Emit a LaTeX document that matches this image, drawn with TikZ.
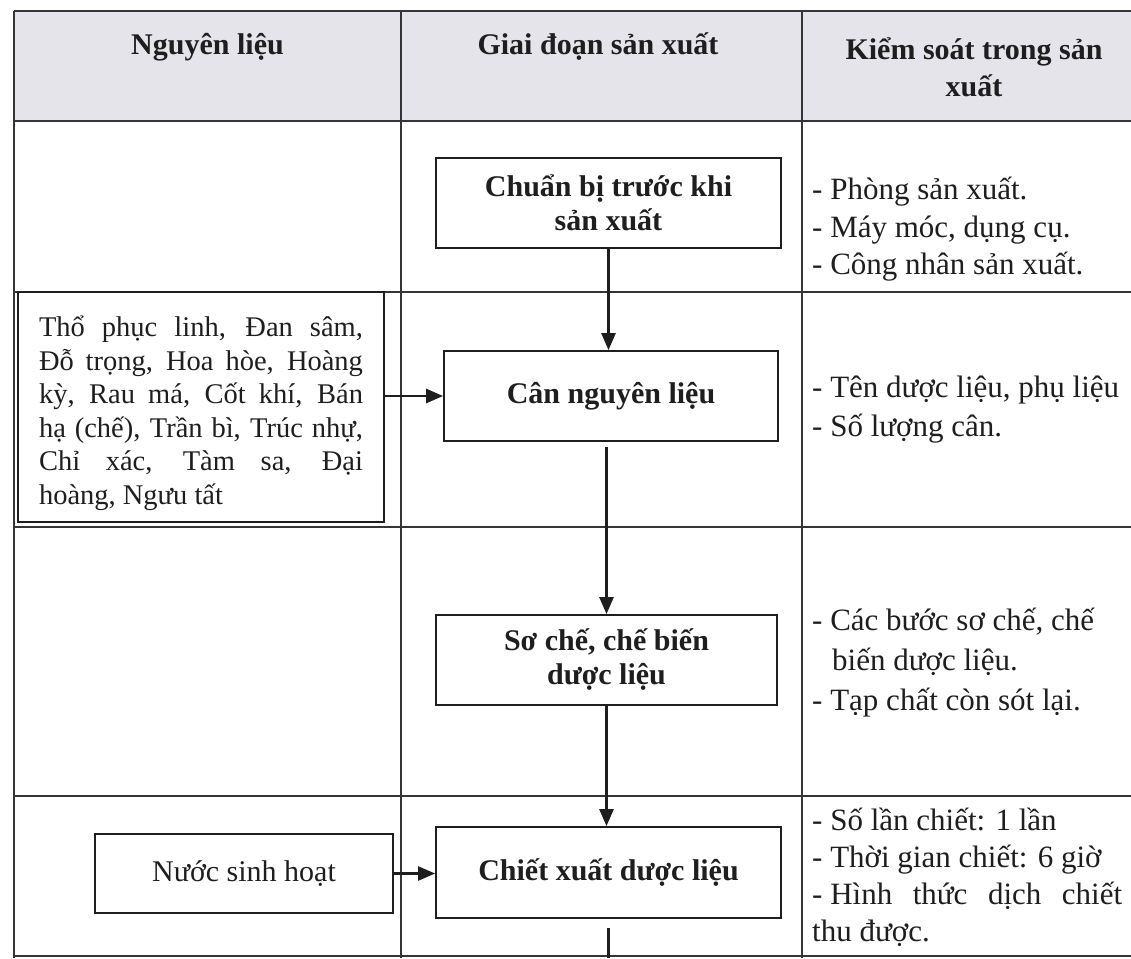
\documentclass[tikz,border=0pt]{standalone}
\usepackage{fontspec}
\setmainfont{Liberation Serif}
\usetikzlibrary{arrows.meta}
\definecolor{hdr}{HTML}{E4E4EA}
\definecolor{ink}{HTML}{1E1E1E}
\tikzset{
  tline/.style={draw=ink!90, line width=2pt},
  stepbox/.style={draw=ink, line width=1.8pt, inner sep=0pt, align=center,
    text=ink, font=\fontsize{30}{34}\selectfont\bfseries},
  inbox/.style={draw=ink, line width=1.8pt, inner sep=0pt, align=center,
    text=ink, font=\fontsize{30}{34}\selectfont},
  hdrtext/.style={text=ink, align=center, inner sep=0pt,
    font=\fontsize{30}{37}\selectfont\bfseries},
  ctrl/.style={text=ink, align=left, inner sep=0pt, anchor=west},
  flow/.style={draw=ink, line width=2.6pt, -{Triangle[length=17pt,width=14pt]}},
}
\begin{document}
\begin{tikzpicture}[x=1pt,y=-1pt]
\useasboundingbox (0,0) rectangle (1131,958);
% header background
\fill[hdr] (14,11) rectangle (1146,121);
% table grid
\draw[tline] (14,11) -- (1146,11);
\draw[tline] (14,121) -- (1146,121);
\draw[tline] (14,292) -- (1146,292);
\draw[tline] (14,527) -- (1146,527);
\draw[tline] (14,796) -- (1146,796);
\draw[tline] (14,956) -- (1146,956);
\draw[tline] (14,11) -- (14,958);
\draw[tline] (401,11) -- (401,958);
\draw[tline] (802,11) -- (802,958);
\draw[tline] (1146,11) -- (1146,958);
% headers
\node[hdrtext] (h1) at (207.5,47) {Nguyên liệu};
\node[hdrtext] (h2) at (598,47) {Giai đoạn sản xuất};
\node[hdrtext] (h3) at (974,67) {Kiểm soát trong sản\\xuất};
% stage boxes
\node[stepbox, minimum width=345pt, minimum height=90pt] (chuan) at (608.5,203) {Chuẩn bị trước khi\\sản xuất};
\node[stepbox, minimum width=334pt, minimum height=90pt] (can) at (611,396) {Cân nguyên liệu};
\node[stepbox, minimum width=341pt, minimum height=90pt] (so) at (606.5,660) {Sơ chế, chế biến\\dược liệu};
\node[stepbox, minimum width=345pt, minimum height=91pt] (chiet) at (608.5,872.5) {Chiết xuất dược liệu};
% input boxes
\node[inbox, minimum width=366pt, minimum height=230pt] (tho) at (201,407) {};
\node[text=ink, inner sep=0pt, text width=324pt, align=justify,
      font=\fontsize{28.5}{33.5}\selectfont] (thotext) at (201,413)
  {Thổ phục linh, Đan sâm,\linebreak Đỗ trọng, Hoa hòe, Hoàng\linebreak kỳ, Rau má, Cốt khí, Bán\linebreak hạ (chế), Trần bì, Trúc nhự,\linebreak Chỉ xác, Tàm sa, Đại\linebreak hoàng, Ngưu tất};
\node[inbox, minimum width=298pt, minimum height=79pt] (nuoc) at (244,873.5) {Nước sinh hoạt};
% control texts
\node[ctrl, font=\fontsize{31}{37.5}\selectfont] (k1) at (812,229.5)
  {- Phòng sản xuất.\\- Máy móc, dụng cụ.\\- Công nhân sản xuất.};
\node[ctrl, font=\fontsize{31}{39}\selectfont] (k2) at (812,409.5)
  {- Tên dược liệu, phụ liệu\\- Số lượng cân.};
\node[ctrl, font=\fontsize{31}{40}\selectfont] (k3) at (812,663)
  {- Các bước sơ chế, chế\\\hspace*{20pt}biến dược liệu.\\- Tạp chất còn sót lại.};
\node[ctrl, font=\fontsize{31}{37}\selectfont] (k4) at (812,877)
  {- Số lần chiết: 1 lần\\- Thời gian chiết: 6 giờ\\\makebox[310pt][l]{- Hình\hfill thức\hfill dịch\hfill chiết}\\thu được.};
% connectors
\coordinate (bot) at (606.5,958);
\draw[flow] (chuan.south) -- (chuan.south |- can.north);
\draw[flow] ([yshift=-5pt]so.north |- can.south) -- (so.north);
\draw[flow] (so.south) -- (so.south |- chiet.north);
\draw[draw=ink, line width=2.6pt] ([yshift=-9pt]chiet.south) -- (chiet.south |- bot);
\draw[flow] (tho.east |- can.west) -- (can.west);
\draw[flow] (nuoc.east) -- (nuoc.east -| chiet.west);
\end{tikzpicture}
\end{document}
